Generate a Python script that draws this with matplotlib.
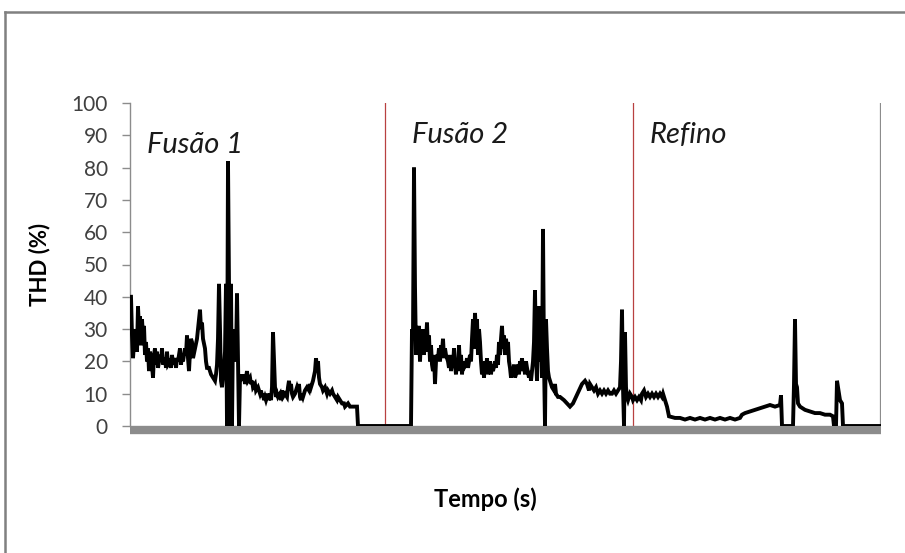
import matplotlib
matplotlib.use("Agg")
import matplotlib.pyplot as plt
from matplotlib.lines import Line2D

plt.rcParams['font.family'] = ['Lato', 'DejaVu Sans']

# THD (%), time in arbitrary units (no ticks on x)
time_s = [
    1, 2, 3, 5, 7, 8, 9, 10, 11, 12, 13, 14, 15, 16, 17, 18, 19, 20, 22, 23,
    24, 25, 26, 27, 28, 30, 31, 32, 33, 35, 36, 37, 38, 40, 41, 42, 43, 45, 46, 47,
    48, 50, 51, 52, 53, 55, 56, 57, 58, 59, 60, 61, 62, 63, 65, 67, 68, 69, 70, 71,
    72, 73, 75, 76, 77, 79, 80, 81, 83, 85, 86, 87, 88, 89, 90, 91, 92, 93, 94, 95,
    96, 97, 98, 99, 100, 101, 102, 103, 104, 105, 106, 107, 108, 109, 110, 111, 112, 113, 114, 115,
    116, 117, 118, 120, 121, 122, 123, 125, 126, 128, 129, 130, 131, 132, 133, 134, 135, 136, 137, 138,
    139, 140, 141, 142, 143, 144, 145, 146, 147, 148, 150, 151, 152, 153, 155, 157, 158, 159, 160, 161,
    162, 163, 165, 167, 168, 169, 170, 171, 172, 173, 175, 177, 179, 180, 181, 183, 185, 186, 187, 188,
    189, 190, 192, 193, 195, 197, 198, 200, 202, 203, 205, 207, 208, 210, 212, 214, 215, 218, 220, 224,
    227, 228, 281, 282, 283, 284, 285, 286, 287, 288, 289, 290, 291, 292, 293, 294, 295, 296, 297, 298,
    299, 300, 301, 302, 303, 304, 305, 306, 307, 308, 309, 310, 311, 312, 313, 314, 315, 316, 318, 319,
    320, 321, 322, 323, 324, 325, 326, 327, 328, 329, 330, 331, 332, 333, 334, 336, 337, 338, 340, 341,
    342, 343, 344, 345, 346, 347, 348, 349, 350, 351, 352, 353, 354, 355, 356, 357, 358, 359, 360, 361,
    362, 363, 365, 366, 367, 368, 369, 370, 371, 372, 373, 374, 375, 376, 377, 378, 379, 380, 381, 382,
    383, 384, 385, 387, 388, 389, 390, 391, 392, 393, 394, 395, 396, 397, 399, 400, 401, 403, 404, 405,
    406, 407, 408, 409, 410, 411, 412, 413, 414, 415, 416, 417, 418, 419, 420, 422, 424, 425, 426, 428,
    430, 434, 437, 440, 443, 446, 449, 452, 455, 457, 459, 460, 462, 464, 466, 468, 470, 472, 474, 476,
    478, 480, 482, 484, 486, 488, 490, 491, 492, 493, 494, 495, 496, 497, 498, 500, 502, 503, 505, 507,
    509, 511, 512, 514, 516, 518, 520, 522, 524, 526, 528, 530, 532, 533, 535, 537, 539, 545, 550, 555,
    560, 565, 570, 575, 580, 585, 590, 595, 600, 605, 610, 612, 615, 620, 625, 630, 635, 640, 645, 650,
    651, 652, 663, 664, 665, 666, 667, 668, 670, 675, 680, 685, 690, 695, 700, 703, 704, 706, 707, 708,
    710, 712, 713, 750,
]
thd = [
    40, 28, 21, 30, 23, 37, 30, 34, 25, 33, 28, 31, 22, 26, 20, 24, 17, 23, 19, 15,
    22, 24, 19, 23, 18, 22, 20, 24, 19, 21, 18, 23, 19, 20, 18, 22, 19, 21, 18, 21,
    20, 24, 19, 22, 20, 24, 22, 28, 21, 17, 23, 27, 26, 21, 24, 27, 30, 33, 36, 30,
    32, 27, 24, 20, 18, 18, 17, 16, 15, 14, 16, 19, 27, 44, 30, 14, 12, 15, 18, 23,
    44, 0, 82, 44, 0, 44, 0, 30, 25, 20, 21, 41, 20, 0, 15, 14, 16, 14, 16, 13,
    15, 17, 14, 15, 13, 14, 12, 13, 11, 12, 11, 10, 11, 9, 10, 8, 9, 8, 9, 10,
    8, 10, 8, 12, 29, 20, 12, 9, 10, 9, 10, 8, 11, 9, 10, 9, 12, 14, 11, 13,
    10, 9, 10, 12, 11, 13, 9, 8, 10, 9, 11, 12, 11, 13, 12, 14, 17, 21, 18, 20,
    15, 13, 12, 11, 12, 10, 11, 10, 11, 10, 9, 8, 9, 8, 7, 7, 6, 7, 6, 6,
    6, 0, 0, 30, 28, 80, 43, 22, 29, 25, 31, 20, 27, 24, 30, 22, 29, 26, 32, 23,
    28, 20, 25, 19, 17, 22, 13, 20, 22, 21, 24, 20, 25, 23, 27, 21, 24, 22, 20, 18,
    22, 17, 20, 18, 24, 19, 16, 21, 17, 25, 18, 22, 16, 20, 18, 19, 21, 18, 22, 20,
    27, 33, 24, 35, 28, 33, 22, 30, 26, 20, 16, 19, 15, 20, 17, 21, 16, 18, 20, 16,
    19, 17, 20, 18, 22, 19, 26, 22, 27, 31, 24, 28, 22, 27, 24, 26, 20, 18, 15, 17,
    16, 19, 15, 17, 19, 16, 20, 18, 21, 17, 19, 16, 20, 18, 15, 17, 14, 20, 26, 42,
    22, 14, 25, 37, 20, 33, 15, 61, 20, 0, 33, 24, 17, 15, 14, 12, 11, 13, 10, 9,
    9, 8, 7, 6, 7, 9, 11, 13, 14, 13, 11, 13, 12, 11, 12, 10, 11, 10, 11, 10,
    11, 10, 10, 11, 10, 11, 12, 20, 36, 12, 0, 29, 12, 9, 8, 10, 9, 8, 9, 8,
    9, 8, 10, 11, 9, 10, 9, 10, 9, 10, 9, 10, 9, 10, 8, 6, 3, 2.5, 2.5, 2,
    2.5, 2, 2.5, 2, 2.5, 2, 2.5, 2, 2.5, 2, 2.5, 3.5, 4, 4.5, 5, 5.5, 6, 6.5, 6, 6.5,
    9.5, 0, 0, 13, 33, 13, 12, 7, 6, 5, 4.5, 4, 4, 3.5, 3.5, 3, 0, 0, 14, 12,
    8, 7, 0, 0,
]

phase_bounds = [255, 503, 750]
phase_colors = ['#b84040', '#b84040', '#8c8c8c']
phase_labels = ['Fusão 1', 'Fusão 2', 'Refino']
label_x = [17, 282, 520]
label_y = [84.5, 87.6, 87.6]

fig = plt.figure(figsize=(9.05, 5.53), dpi=100)
ax = fig.add_axes([130 / 905, 1 - 426 / 553, 751 / 905, 323 / 553])

for xb, c in zip(phase_bounds, phase_colors):
    ax.axvline(xb, color=c, lw=0.9, zorder=1)

ax.plot(time_s, thd, color='black', lw=2.8, solid_joinstyle='miter', zorder=3)

for lx, ly, txt in zip(label_x, label_y, phase_labels):
    ax.text(lx, ly, txt, fontsize=21, style='italic', color='#1a1a1a', va='baseline')

ax.set_xlim(0, 751)
ax.set_ylim(0, 100)
ax.set_yticks(range(0, 101, 10))
ax.set_xticks([])
ax.tick_params(axis='y', direction='out', length=6, width=1, color='#8c8c8c',
               labelsize=15, labelcolor='#404040', pad=10)

for s in ['top', 'right']:
    ax.spines[s].set_visible(False)
ax.spines['left'].set_color('#8c8c8c')
ax.spines['left'].set_linewidth(1)
ax.spines['bottom'].set_color('#8c8c8c')
ax.spines['bottom'].set_linewidth(6)
ax.spines['bottom'].set_position(('outward', 3))
ax.spines['bottom'].set_capstyle('butt')

ax.set_ylabel('THD (%)', fontsize=16, fontweight='bold')
ax.yaxis.set_label_coords(-0.106, 0.5)
ax.set_xlabel('Tempo (s)', fontsize=17, fontweight='bold')
ax.xaxis.set_label_coords(0.473, -0.19)

# outer frame (top and left edges visible)
fig.add_artist(Line2D([5 / 905, 5 / 905], [0, 1 - 12 / 553], transform=fig.transFigure,
                      color='#808080', lw=1.8))
fig.add_artist(Line2D([5 / 905, 1], [1 - 12 / 553, 1 - 12 / 553], transform=fig.transFigure,
                      color='#808080', lw=1.8))

fig.savefig('out.png', dpi=100)
